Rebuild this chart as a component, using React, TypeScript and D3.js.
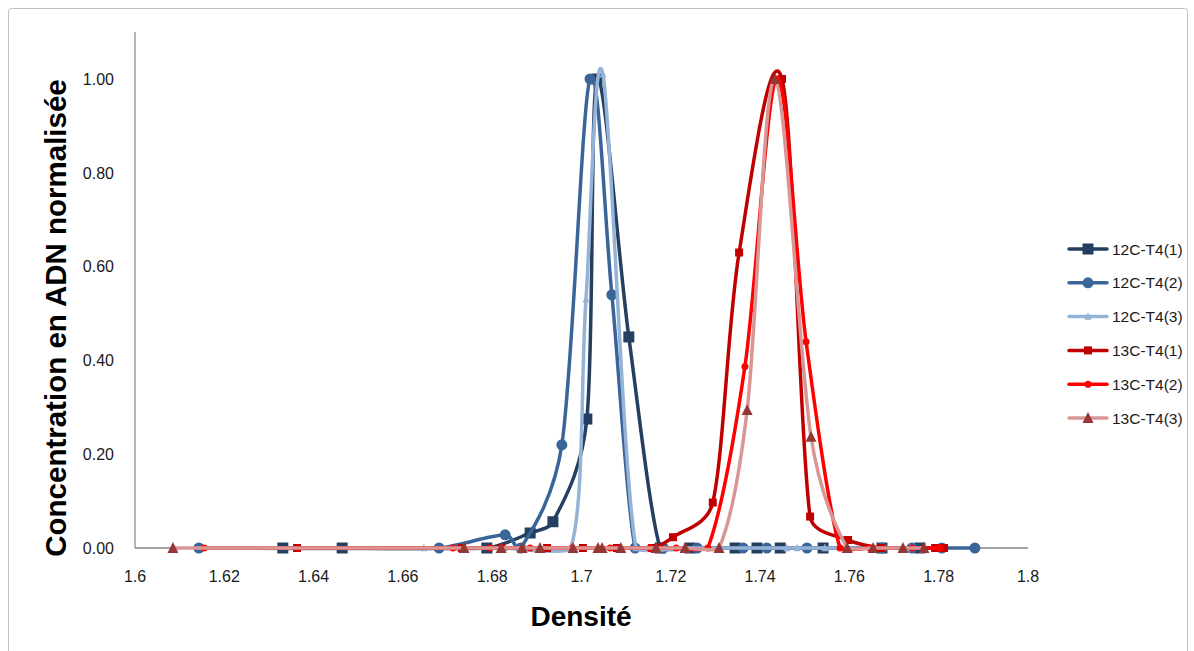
import React from "react";
import * as d3 from "d3";

const xTicks = [1.6, 1.62, 1.64, 1.66, 1.68, 1.7, 1.72, 1.74, 1.76, 1.78, 1.8];
const yTicks = [0, 0.2, 0.4, 0.6, 0.8, 1.0];

const s1Name = "12C-T4(1)";
const s1D = [1.6331, 1.6464, 1.6788, 1.6885, 1.6936, 1.7012, 1.7035, 1.7106, 1.7176, 1.7243, 1.7344, 1.7393, 1.7445, 1.7541, 1.7673, 1.7758];
const s1V = [0, 0, 0, 0.032, 0.056, 0.275, 1.0, 0.45, 0, 0, 0, 0, 0, 0, 0, 0];

const s2Name = "12C-T4(2)";
const s2D = [1.6143, 1.6681, 1.6829, 1.6864, 1.6956, 1.7019, 1.7068, 1.712, 1.7183, 1.7259, 1.7362, 1.7415, 1.7505, 1.7673, 1.774, 1.7807, 1.7881];
const s2V = [0, 0, 0.028, 0, 0.22, 1.0, 0.54, 0, 0, 0, 0, 0, 0, 0, 0, 0, 0];

const s3Name = "12C-T4(3)";
const s3D = [1.6647, 1.6828, 1.6976, 1.701, 1.7048, 1.7122, 1.7232, 1.731, 1.746, 1.7483, 1.7545, 1.7673, 1.7736];
const s3V = [0, 0, 0, 0.53, 1.01, 0, 0, 0, 0, 0, 0, 0, 0];

const s4Name = "13C-T4(1)";
const s4D = [1.6363, 1.6732, 1.682, 1.6923, 1.7003, 1.7079, 1.7158, 1.7205, 1.7294, 1.7353, 1.7449, 1.7512, 1.7597, 1.7671, 1.7792, 1.7812];
const s4V = [0, 0, 0, 0, 0, 0, 0, 0.023, 0.097, 0.63, 1.0, 0.067, 0.017, 0, 0, 0];

const s5Name = "13C-T4(2)";
const s5D = [1.6155, 1.6712, 1.6795, 1.6885, 1.6979, 1.7064, 1.7153, 1.7212, 1.7283, 1.7366, 1.7438, 1.7503, 1.7579, 1.7646, 1.774, 1.7803];
const s5V = [0, 0, 0, 0, 0, 0, 0, 0, 0, 0.387, 1.0, 0.44, 0, 0, 0, 0];

const s6Name = "13C-T4(3)";
const s6D = [1.6085, 1.6737, 1.682, 1.6867, 1.6907, 1.6981, 1.7037, 1.7046, 1.7088, 1.7167, 1.7232, 1.7308, 1.7371, 1.7433, 1.7514, 1.7595, 1.7653, 1.772, 1.7767];
const s6V = [0, 0, 0, 0, 0, 0, 0, 0, 0, 0, 0, 0, 0.294, 1.0, 0.237, 0, 0, 0, 0];

type Shape = "square" | "circle" | "triangle";
interface Series { name: string; d: number[]; v: number[]; line: string; marker: string; shape: Shape; size: number; }

const series: Series[] = [
  { name: s1Name, d: s1D, v: s1V, line: "#243F60", marker: "#243F60", shape: "square", size: 11 },
  { name: s2Name, d: s2D, v: s2V, line: "#3A6599", marker: "#3A6599", shape: "circle", size: 11 },
  { name: s3Name, d: s3D, v: s3V, line: "#95B3D7", marker: "#95B3D7", shape: "triangle", size: 7 },
  { name: s4Name, d: s4D, v: s4V, line: "#C00000", marker: "#C00000", shape: "square", size: 8 },
  { name: s5Name, d: s5D, v: s5V, line: "#FF0000", marker: "#FF0000", shape: "circle", size: 7 },
  { name: s6Name, d: s6D, v: s6V, line: "#D99694", marker: "#953735", shape: "triangle", size: 11 },
];

const FONT = "'Liberation Sans', Arial, sans-serif";

// Excel-like smoothed line: tangent parallel to neighbours' chord, handle = 1/6 of chord,
// clamped per segment (tighter on flat segments to avoid undershoot)
function smoothPath(P: [number, number][]): string {
  const p = d3.path();
  const n = P.length;
  if (!n) return "";
  p.moveTo(P[0][0], P[0][1]);
  const tan = (i: number): [number, number] => {
    const a = P[Math.max(0, i - 1)];
    const b = P[Math.min(n - 1, i + 1)];
    return [(b[0] - a[0]) / 6, (b[1] - a[1]) / 6];
  };
  const clamp = (h: [number, number], maxLen: number): [number, number] => {
    const l = Math.hypot(h[0], h[1]);
    return l > maxLen && l > 0 ? [(h[0] * maxLen) / l, (h[1] * maxLen) / l] : h;
  };
  for (let i = 0; i < n - 1; i++) {
    const A = P[i];
    const B = P[i + 1];
    const seg = Math.hypot(B[0] - A[0], B[1] - A[1]);
    const steep = seg > 0 ? Math.abs(B[1] - A[1]) / seg : 0;
    const f = Math.min(0.5, 0.12 + 0.5 * steep);
    const h1 = clamp(tan(i), seg * f);
    const h2 = clamp(tan(i + 1), seg * f);
    p.bezierCurveTo(A[0] + h1[0], A[1] + h1[1], B[0] - h2[0], B[1] - h2[1], B[0], B[1]);
  }
  return p.toString();
}

function Marker({ x, y, shape, size, color }: { x: number; y: number; shape: Shape; size: number; color: string }) {
  if (shape === "square") return <rect x={x - size / 2} y={y - size / 2} width={size} height={size} fill={color} />;
  if (shape === "circle") return <circle cx={x} cy={y} r={size / 2} fill={color} />;
  const h = size * 0.9;
  return <path d={`M${x},${y - h / 2 - 1}L${x + size / 2},${y + h / 2}L${x - size / 2},${y + h / 2}Z`} fill={color} />;
}

export default function App() {
  const x = d3.scaleLinear().domain([1.6, 1.8]).range([135, 1028]);
  const y = d3.scaleLinear().domain([0, 1.1]).range([548, 548 - 1.1 * 469]);
  const fmtX = (v: number) => String(+v.toFixed(2));
  const legendX = 1069;
  const legendY0 = 249;
  const legendStep = 33.8;

  return (
    <svg
      width={1194}
      height={651}
      style={{ position: "absolute", left: 0, top: 0, background: "#fff" }}
      fontFamily={FONT}
    >
      <rect x={8.5} y={8.5} width={1179} height={680} rx={3} fill="#fff" stroke="#BFBFBF" strokeWidth={1} />
      <line x1={135} x2={135} y1={y(1.1)} y2={548} stroke="#868686" strokeWidth={1.2} />
      <line x1={135} x2={1028} y1={548} y2={548} stroke="#868686" strokeWidth={1.5} />
      {yTicks.map((t) => (
        <text key={"y" + t} x={114} y={y(t)} dy="0.36em" textAnchor="end" fontSize={16} fill="#1a1a1a">
          {t.toFixed(2)}
        </text>
      ))}
      {xTicks.map((t) => (
        <text key={"x" + t} x={x(t)} y={582} textAnchor="middle" fontSize={16} fill="#1a1a1a">
          {fmtX(t)}
        </text>
      ))}
      <text x={581} y={626} textAnchor="middle" fontSize={28} fontWeight="bold" fill="#000">
        Densité
      </text>
      <text
        transform={`translate(66,318) rotate(-90)`}
        textAnchor="middle"
        fontSize={29.5}
        fontWeight="bold"
        fill="#000"
      >
        Concentration en ADN normalisée
      </text>
      {series.map((s) => {
        const pts = s.d.map((dv, i) => [x(dv), y(s.v[i])] as [number, number]);
        return (
          <g key={s.name}>
            <path d={smoothPath(pts)} fill="none" stroke={s.line} strokeWidth={3.5} strokeLinejoin="round" strokeLinecap="round" />
            {pts.map((p, i) => (
              <Marker key={i} x={p[0]} y={p[1]} shape={s.shape} size={s.size} color={s.marker} />
            ))}
          </g>
        );
      })}
      {series.map((s, i) => {
        const ly = legendY0 + i * legendStep;
        return (
          <g key={"lg" + s.name}>
            <line x1={legendX} x2={legendX + 38} y1={ly} y2={ly} stroke={s.line} strokeWidth={3.5} strokeLinecap="round" />
            <Marker x={legendX + 19} y={ly} shape={s.shape} size={s.size} color={s.marker} />
            <text x={legendX + 43} y={ly} dy="0.36em" fontSize={15.5} fill="#1a1a1a">
              {s.name}
            </text>
          </g>
        );
      })}
    </svg>
  );
}
